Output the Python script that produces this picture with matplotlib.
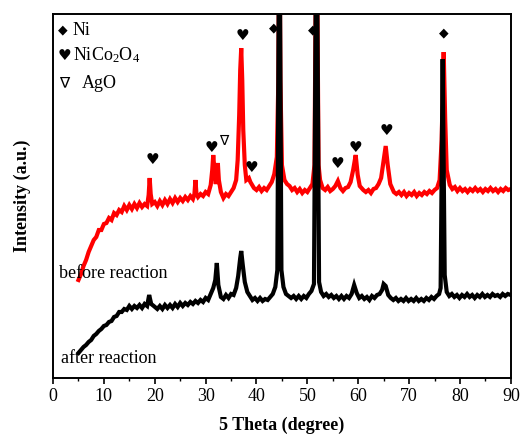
import matplotlib
matplotlib.use("Agg")
import matplotlib.pyplot as plt
from matplotlib.ticker import MultipleLocator

# ---- data (intensity in arbitrary units) ----
before_x = [5.0, 5.5, 6.0, 6.5, 7.0, 7.5, 8.0, 8.5, 9.0, 9.5, 10.0, 10.5, 11.0, 11.5, 12.0, 12.5,
            13.0, 13.5, 14.0, 14.5, 15.0, 15.5, 16.0, 16.5, 17.0, 17.5, 18.0, 18.5, 18.8, 19.0, 19.2,
            19.5, 20.0, 20.5, 21.0, 21.5, 22.0, 22.5, 23.0, 23.5, 24.0, 24.5, 25.0, 25.5, 26.0, 26.5,
            27.0, 27.5, 27.8, 28.0, 28.2, 28.5, 29.0, 29.5, 30.0, 30.5, 31.0, 31.3, 31.5, 31.8, 32.0,
            32.2, 32.4, 32.6, 33.0, 33.5, 34.0, 34.5, 35.0, 35.5, 36.0, 36.3, 36.6, 36.8, 37.0, 37.2,
            37.4, 37.7, 38.0, 38.5, 38.8, 39.5, 40.0, 40.5, 41.0, 41.5, 42.0, 42.5, 43.0, 43.5, 44.0,
            44.3, 44.5, 44.7, 45.0, 45.5, 46.0, 46.5, 47.0, 47.5, 48.0, 48.5, 49.0, 49.5, 50.0, 50.5,
            51.0, 51.4, 51.8, 52.2, 52.5, 53.0, 53.5, 54.0, 54.5, 55.0, 55.5, 56.0, 56.5, 57.0, 57.5,
            58.0, 58.5, 59.0, 59.5, 59.9, 60.3, 61.0, 61.5, 62.0, 62.5, 63.0, 63.5, 64.0, 64.5, 65.0,
            65.4, 65.8, 66.3, 67.0, 67.5, 68.0, 68.5, 69.0, 69.5, 70.0, 70.5, 71.0, 71.5, 72.0, 72.5,
            73.0, 73.5, 74.0, 74.5, 75.0, 75.5, 76.0, 76.4, 76.8, 77.1, 77.4, 78.0, 78.5, 79.0, 79.5,
            80.0, 80.5, 81.0, 81.5, 82.0, 82.5, 83.0, 83.5, 84.0, 84.5, 85.0, 85.5, 86.0, 86.5, 87.0,
            87.5, 88.0, 88.5, 89.0, 89.5, 90.0]
before_y = [100, 106, 114, 120, 128, 134, 140, 143, 150, 150, 156, 157, 162, 160, 167, 165,
            170, 168, 174, 170, 175, 171, 176, 172, 177, 173, 176, 174, 185, 202, 186,
            176, 178, 174, 179, 175, 180, 176, 181, 177, 182, 178, 182, 179, 183, 180,
            184, 181, 186, 200, 186, 183, 186, 184, 188, 186, 195, 210, 225, 205, 196,
            205, 217, 200, 188, 182, 186, 184, 188, 192, 200, 220, 265, 310, 332, 300,
            250, 215, 200, 202, 198, 192, 190, 193, 189, 192, 190, 194, 198, 206, 223,
            300, 500, 300, 215, 200, 196, 194, 190, 192, 188, 191, 187, 190, 188, 192,
            196, 215, 500, 215, 200, 192, 190, 193, 189, 191, 194, 199, 192, 189, 192,
            193, 198, 210, 225, 205, 194, 190, 188, 190, 187, 191, 192, 196, 202, 220,
            234, 215, 196, 188, 186, 188, 185, 188, 184, 187, 185, 188, 184, 187, 185,
            188, 186, 189, 187, 190, 192, 200, 240, 328, 260, 210, 195, 191, 193, 189,
            192, 189, 191, 188, 191, 189, 192, 189, 191, 188, 191, 189, 192, 189, 191,
            188, 191, 189, 192, 190, 191]

after_x = [5.0, 5.5, 6.0, 6.5, 7.0, 7.5, 8.0, 8.5, 9.0, 9.5, 10.0, 10.5, 11.0, 11.5, 12.0, 12.5,
           13.0, 13.5, 14.0, 14.5, 15.0, 15.5, 16.0, 16.5, 17.0, 17.5, 18.0, 18.5, 18.9, 19.3, 19.8,
           20.5, 21.0, 21.5, 22.0, 22.5, 23.0, 23.5, 24.0, 24.5, 25.0, 25.5, 26.0, 26.5, 27.0, 27.5,
           28.0, 28.5, 29.0, 29.5, 30.0, 30.5, 31.0, 31.5, 31.9, 32.2, 32.5, 33.0, 33.5, 34.0, 34.5,
           35.0, 35.5, 36.0, 36.4, 36.8, 37.0, 37.3, 37.7, 38.2, 38.7, 39.2, 39.7, 40.2, 40.7, 41.2,
           41.7, 42.2, 42.7, 43.2, 43.7, 44.1, 44.5, 44.9, 45.3, 45.8, 46.3, 46.8, 47.3, 47.8, 48.3,
           48.8, 49.3, 49.8, 50.3, 50.8, 51.3, 51.8, 52.3, 52.7, 53.2, 53.7, 54.2, 54.7, 55.2, 55.7,
           56.2, 56.7, 57.2, 57.7, 58.2, 58.7, 59.2, 59.7, 60.2, 60.7, 61.2, 61.7, 62.2, 62.7, 63.2,
           63.7, 64.2, 64.7, 65.0, 65.4, 65.9, 66.4, 66.9, 67.4, 67.9, 68.4, 68.9, 69.4, 69.9, 70.4,
           70.9, 71.4, 71.9, 72.4, 72.9, 73.4, 73.9, 74.4, 74.9, 75.4, 75.9, 76.2, 76.6, 77.0, 77.4,
           77.9, 78.4, 78.9, 79.4, 79.9, 80.4, 80.9, 81.4, 81.9, 82.4, 82.9, 83.4, 83.9, 84.4, 84.9,
           85.4, 85.9, 86.4, 86.9, 87.4, 87.9, 88.4, 88.9, 89.4, 90.0]
after_y = [27, 30, 33, 35, 38, 40, 44, 46, 49, 51, 54, 55, 58, 59, 63, 64,
           68, 68, 71, 70, 74, 71, 74, 72, 75, 72, 76, 74, 85, 76, 74,
           71, 74, 71, 75, 72, 75, 72, 76, 73, 77, 74, 77, 75, 78, 76,
           79, 77, 80, 78, 82, 80, 86, 92, 100, 117, 95, 83, 81, 85, 82,
           86, 85, 92, 104, 122, 129, 115, 98, 88, 84, 80, 82, 79, 82, 79,
           81, 80, 83, 86, 93, 110, 500, 110, 93, 86, 84, 82, 84, 81, 84,
           81, 84, 82, 86, 89, 96, 500, 98, 88, 84, 86, 83, 85, 82, 84,
           81, 84, 81, 84, 82, 86, 95, 87, 82, 84, 81, 83, 80, 84, 82,
           85, 86, 90, 96, 94, 85, 82, 80, 82, 79, 81, 79, 82, 79, 81,
           79, 82, 79, 81, 79, 82, 80, 83, 81, 84, 86, 92, 321, 105, 88,
           84, 86, 83, 85, 82, 85, 83, 86, 83, 85, 82, 85, 83, 86, 83,
           85, 83, 86, 84, 85, 83, 86, 84, 86, 85]

ni_pos = [43.4, 51.1, 76.8]
ni_h = [352, 350, 347]
nico_pos = [19.5, 31.1, 37.3, 39.1, 55.9, 59.5, 65.6]
nico_h = [221, 233, 345, 213, 217, 233, 250]
ago_pos = [33.6]
ago_h = [239]

tick_vals = [0, 10, 20, 30, 40, 50, 60, 70, 80, 90]

# ---- plot ----
plt.rcParams['font.family'] = ['Liberation Serif', 'DejaVu Serif', 'DejaVu Sans']
plt.rcParams['mathtext.default'] = 'regular'
fig = plt.figure(figsize=(5.25, 4.4), dpi=100)
ax = fig.add_axes([0.101, 0.141, 0.872, 0.827])

ax.plot(before_x, before_y, color='#ff0000', lw=3.0, solid_joinstyle='miter')
ax.plot(after_x, after_y, color='black', lw=3.0, solid_joinstyle='miter')

sym = ['DejaVu Sans']
for xv, yv in zip(ni_pos, ni_h):
    ax.text(xv, yv, '\u25C6', ha='center', va='center', fontsize=9, family=sym)
for xv, yv in zip(nico_pos, nico_h):
    ax.text(xv, yv, '\u2665', ha='center', va='center', fontsize=11, family=sym)
for xv, yv in zip(ago_pos, ago_h):
    ax.text(xv, yv, '\u2207', ha='center', va='center', fontsize=10, family=sym)

# legend-like annotations
ax.text(1.0, 350, '\u25C6', ha='left', va='center', fontsize=9, family=sym)
ax.text(3.9, 350, 'Ni', ha='left', va='center', fontsize=13)
ax.text(0.9, 325, '\u2665', ha='left', va='center', fontsize=11, family=sym)
ax.text(3.9, 325, 'NiCo$_2$O$_4$', ha='left', va='center', fontsize=13)
ax.text(1.2, 297, '\u2207', ha='left', va='center', fontsize=11, family=sym)
ax.text(5.6, 297, 'AgO', ha='left', va='center', fontsize=13)

ax.text(1.2, 106, 'before reaction', ha='left', va='center', fontsize=13)
ax.text(1.6, 21, 'after reaction', ha='left', va='center', fontsize=13)

ax.set_xlim(0, 90)
ax.set_ylim(2, 366)
ax.set_xticks(tick_vals)
ax.set_xticklabels([str(t) for t in tick_vals], fontsize=13)
ax.xaxis.set_minor_locator(MultipleLocator(5))
ax.tick_params(axis='x', which='major', direction='out', length=4, width=1.2)
ax.tick_params(axis='x', which='minor', direction='out', length=2.5, width=1)
ax.set_yticks([])
for s in ax.spines.values():
    s.set_linewidth(1.4)

ax.set_xlabel('5 Theta (degree)', fontsize=13, fontweight='bold', labelpad=8)
ax.set_ylabel('Intensity (a.u.)', fontsize=13, fontweight='bold', labelpad=16)

fig.savefig('out.png', dpi=100)
